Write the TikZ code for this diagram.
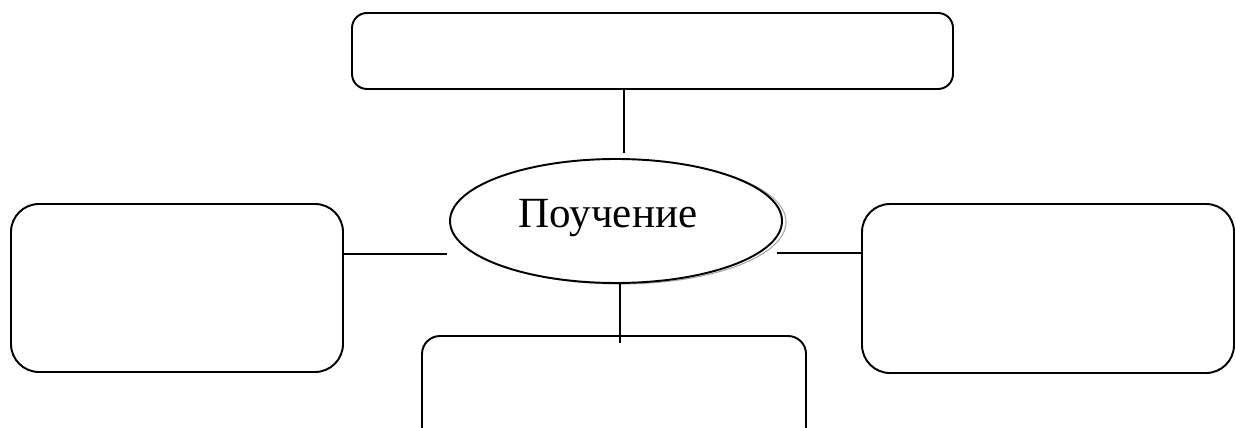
\documentclass[tikz,border=0pt]{standalone}
\usepackage{fontspec}
\setmainfont{Liberation Serif}
\usetikzlibrary{shapes.geometric,calc}
\begin{document}
\begin{tikzpicture}[x=0.02cm,y=-0.02cm,
  box/.style={draw=black,line width=1.1pt,rectangle,inner sep=0pt},
  oval/.style={draw=black,line width=1.1pt,ellipse,inner sep=0pt,fill=white,
    minimum width=332*0.02cm,minimum height=124*0.02cm},
  label text/.style={inner sep=0pt,font=\fontsize{24.5}{28}\selectfont},
  link/.style={draw=black,line width=1.1pt}]
\useasboundingbox (0,0) rectangle (1236,428);
\clip (0,0) rectangle (1236,428);
\node[box,rounded corners=0.3cm,minimum width=601*0.02cm,minimum height=76*0.02cm] (tb) at (652.5,51) {};
\node[box,rounded corners=0.56cm,minimum width=332*0.02cm,minimum height=168*0.02cm] (lb) at (177,288) {};
\node[box,rounded corners=0.56cm,minimum width=372*0.02cm,minimum height=169*0.02cm] (rb) at (1048,288.5) {};
\node[box,rounded corners=0.36cm,minimum width=384*0.02cm,minimum height=118*0.02cm] (bb) at (614,395) {};
\node[draw=gray!70,line width=0.6pt,ellipse,inner sep=0pt,
    minimum width=332*0.02cm,minimum height=124*0.02cm] (sh) at (620,222) {};
\node[oval] (el) at (616,221) {};
\node[label text] (lbl) at (608,218) {Поучение};
\coordinate (tc) at (624,153);
\coordinate (lc) at (447,254);
\coordinate (rc) at (777,253);
\coordinate (bc) at (620,343);
\draw[link] (tb.south -| tc) -- (tc);
\draw[link] (lb.east |- lc) -- (lc);
\draw[link] (rc) -- (rb.west |- rc);
\draw[link] (el.south -| bc) -- (bc);
\end{tikzpicture}
\end{document}
